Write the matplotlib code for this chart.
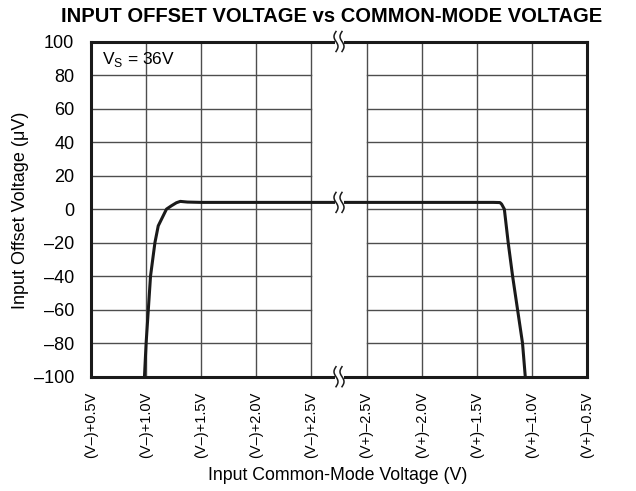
import numpy as np
import matplotlib
matplotlib.use('Agg')
import matplotlib.pyplot as plt
import matplotlib.transforms as mtransforms
from matplotlib.patches import Rectangle

plt.rcParams['font.family'] = ['Liberation Sans', 'DejaVu Sans']

# tick labels along the (broken) x axis
tick_labels = ['(V–)+0.5V', '(V–)+1.0V', '(V–)+1.5V', '(V–)+2.0V', '(V–)+2.5V',
               '(V+)–2.5V', '(V+)–2.0V', '(V+)–1.5V', '(V+)–1.0V', '(V+)–0.5V']
y_ticks = [100, 80, 60, 40, 20, 0, -20, -40, -60, -80, -100]

# left branch: common-mode voltage above V- (V), offset (uV)
low_v = [0.985, 1.0, 1.02, 1.04, 1.06, 1.08, 1.11, 1.185, 1.23, 1.275, 1.31, 1.375, 1.5, 2.0, 2.5]
low_vos = [-100, -80, -60, -40, -30, -20, -10, 0, 2, 3.8, 4.6, 4.2, 4.0, 4.0, 4.0]
# right branch: common-mode voltage below V+ (V), offset (uV)
high_v = [2.5, 2.0, 1.5, 1.35, 1.29, 1.275, 1.25, 1.215, 1.175, 1.13, 1.085, 1.06]
high_vos = [4.0, 4.0, 4.0, 4.0, 3.9, 3.0, 0, -20, -40, -60, -80, -100]


def pos_low(v):
    # (V-)+v  ->  axis slot 0..4
    return (np.asarray(v) - 0.5) / 0.5


def pos_high(v):
    # (V+)-v  ->  axis slot 5..9
    return 5 + (2.5 - np.asarray(v)) / 0.5


fig = plt.figure(figsize=(6.36, 4.91), dpi=100)
ax = fig.add_axes([91/636, 1-376.7/491, 496/636, 335.2/491])

x = np.concatenate([pos_low(low_v), pos_high(high_v)])
y = np.concatenate([low_vos, high_vos])
ax.plot(x, y, color='#1a1a1a', lw=2.2, solid_joinstyle='round', zorder=4)

ax.set_xlim(0, 9)
ax.set_ylim(-100, 100)

# grid, with the gap between slots 4 and 5 left blank
gc = '#4d4d4d'
for yy in y_ticks[1:-1]:
    ax.plot([0, 4], [yy, yy], color=gc, lw=1, zorder=1)
    ax.plot([5, 9], [yy, yy], color=gc, lw=1, zorder=1)
for xx in range(1, 9):
    ax.axvline(xx, color=gc, lw=1, zorder=1)

for s in ax.spines.values():
    s.set_linewidth(2.2)
    s.set_color('#1a1a1a')

ax.set_xticks(range(10))
ax.set_xticklabels(tick_labels, rotation=90, fontsize=10.5)
ax.set_yticks(y_ticks)
ax.set_yticklabels([str(t).replace('-', '–') for t in y_ticks], fontsize=13)
ax.tick_params(axis='both', length=0)
ax.tick_params(axis='x', pad=11)
ax.tick_params(axis='y', pad=12)

ax.text(0.2, 89, r'V$_\mathregular{S}$ = 36V', fontsize=12.5, va='center', ha='left')


# break marks
def break_mark(xc, yc):
    tr = fig.dpi_scale_trans + mtransforms.ScaledTranslation(xc, yc, ax.transData)
    ax.add_patch(Rectangle((-0.045, -0.03), 0.09, 0.06, transform=tr,
                           facecolor='white', edgecolor='none', clip_on=False, zorder=6))
    t = np.linspace(-1, 1, 40)
    for dx in (-0.03, 0.03):
        xs = dx + 0.02 * np.sin(np.pi * t)
        ys = -0.1 * t
        ax.plot(xs, ys, color='#1a1a1a', lw=1.1, transform=tr, clip_on=False, zorder=7)


for yy in (100, 4, -100):
    break_mark(4.5, yy)

fig.text(332/636, 1-17/491, 'INPUT OFFSET VOLTAGE vs COMMON-MODE VOLTAGE',
         fontsize=14.5, fontweight='bold', ha='center', va='center')
fig.text(338/636, 1-476/491, 'Input Common-Mode Voltage (V)', fontsize=12.8,
         ha='center', va='center')
fig.text(21/636, 1-210/491, 'Input Offset Voltage (μV)', fontsize=13,
         ha='center', va='center', rotation=90)

fig.savefig('out.png', dpi=100, facecolor='white')
